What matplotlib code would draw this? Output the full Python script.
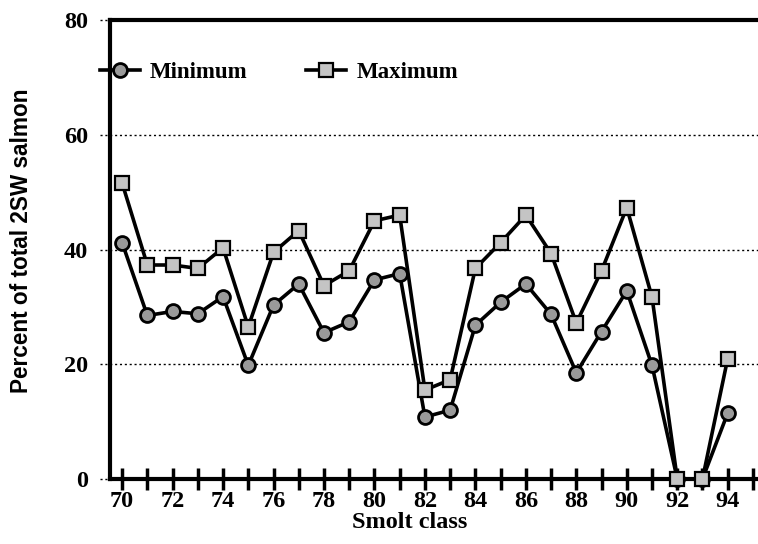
import matplotlib
matplotlib.use("Agg")
import matplotlib.pyplot as plt
import matplotlib.transforms as mtransforms

years = list(range(70, 95))
minimum = [41.2, 28.5, 29.2, 28.8, 31.8, 19.8, 30.3, 34.0, 25.5, 27.4, 34.7, 35.8,
           10.8, 12.0, 26.8, 30.8, 34.0, 28.7, 18.5, 25.7, 32.8, 19.8, 0.0, 0.0, 11.5]
maximum = [51.6, 37.3, 37.3, 36.7, 40.3, 26.5, 39.5, 43.3, 33.7, 36.3, 45.0, 46.0,
           15.5, 17.3, 36.7, 41.2, 46.0, 39.3, 27.2, 36.3, 47.3, 31.7, 0.0, 0.0, 21.0]
xticks = list(range(70, 96))
yticks = [0, 20, 40, 60, 80]

fig = plt.figure(figsize=(7.58, 5.44), dpi=100)
ax = fig.add_axes([0.1451, 0.1195, 1.0 - 0.1451, 0.9632 - 0.1195])

serif = "Liberation Serif"

# grid lines (dotted, extending a little left of the axis)
trans = mtransforms.blended_transform_factory(ax.transAxes, ax.transData)
for v in yticks:
    ax.plot([-0.016, 1.0], [v, v], transform=trans, clip_on=False,
            color="black", lw=1.0, ls=(0, (1.5, 2.0)), zorder=1)

l1, = ax.plot(years, minimum, color="black", lw=2.6, marker="o", ms=10,
              mfc="#9a9a9a", mec="black", mew=2.0, zorder=3, clip_on=False,
              label="Minimum")
l2, = ax.plot(years, maximum, color="black", lw=2.6, marker="s", ms=10,
              mfc="#c4c4c4", mec="black", mew=1.6, zorder=4, clip_on=False,
              label="Maximum")

ax.set_xlim(69.52, 95.2)
ax.set_ylim(0, 80)

ax.set_xticks(xticks)
ax.set_xticklabels([str(y) if y % 2 == 0 and y < 95 else "" for y in xticks])
ax.set_yticks(yticks)
ax.set_yticklabels([str(v) for v in yticks])

ax.tick_params(axis="x", direction="inout", length=16, width=2.5, pad=1,
               labelsize=17.5)
ax.tick_params(axis="y", length=0, pad=16, labelsize=17.5)
for lab in ax.get_xticklabels() + ax.get_yticklabels():
    lab.set_fontfamily(serif)
    lab.set_fontweight("bold")

for s in ["left", "bottom", "top"]:
    ax.spines[s].set_linewidth(3.0)
ax.spines["right"].set_visible(False)

ax.set_xlabel("Smolt class", fontfamily=serif, fontweight="bold", fontsize=17.5)
ax.xaxis.set_label_coords(0.463, -0.072)
ax.set_ylabel("Percent of total 2SW salmon", fontfamily="Liberation Sans",
              fontweight="bold", fontsize=16.3)
ax.yaxis.set_label_coords(-0.119, 0.518)

leg = ax.legend(handles=[l1, l2], loc="center left", bbox_to_anchor=(-0.03, 0.885),
                ncol=2, frameon=False, handlelength=1.75, handletextpad=0.45,
                columnspacing=2.55, borderaxespad=0.0,
                prop={"family": serif, "weight": "bold", "size": 16.5})

fig.savefig("out.png", dpi=100)
